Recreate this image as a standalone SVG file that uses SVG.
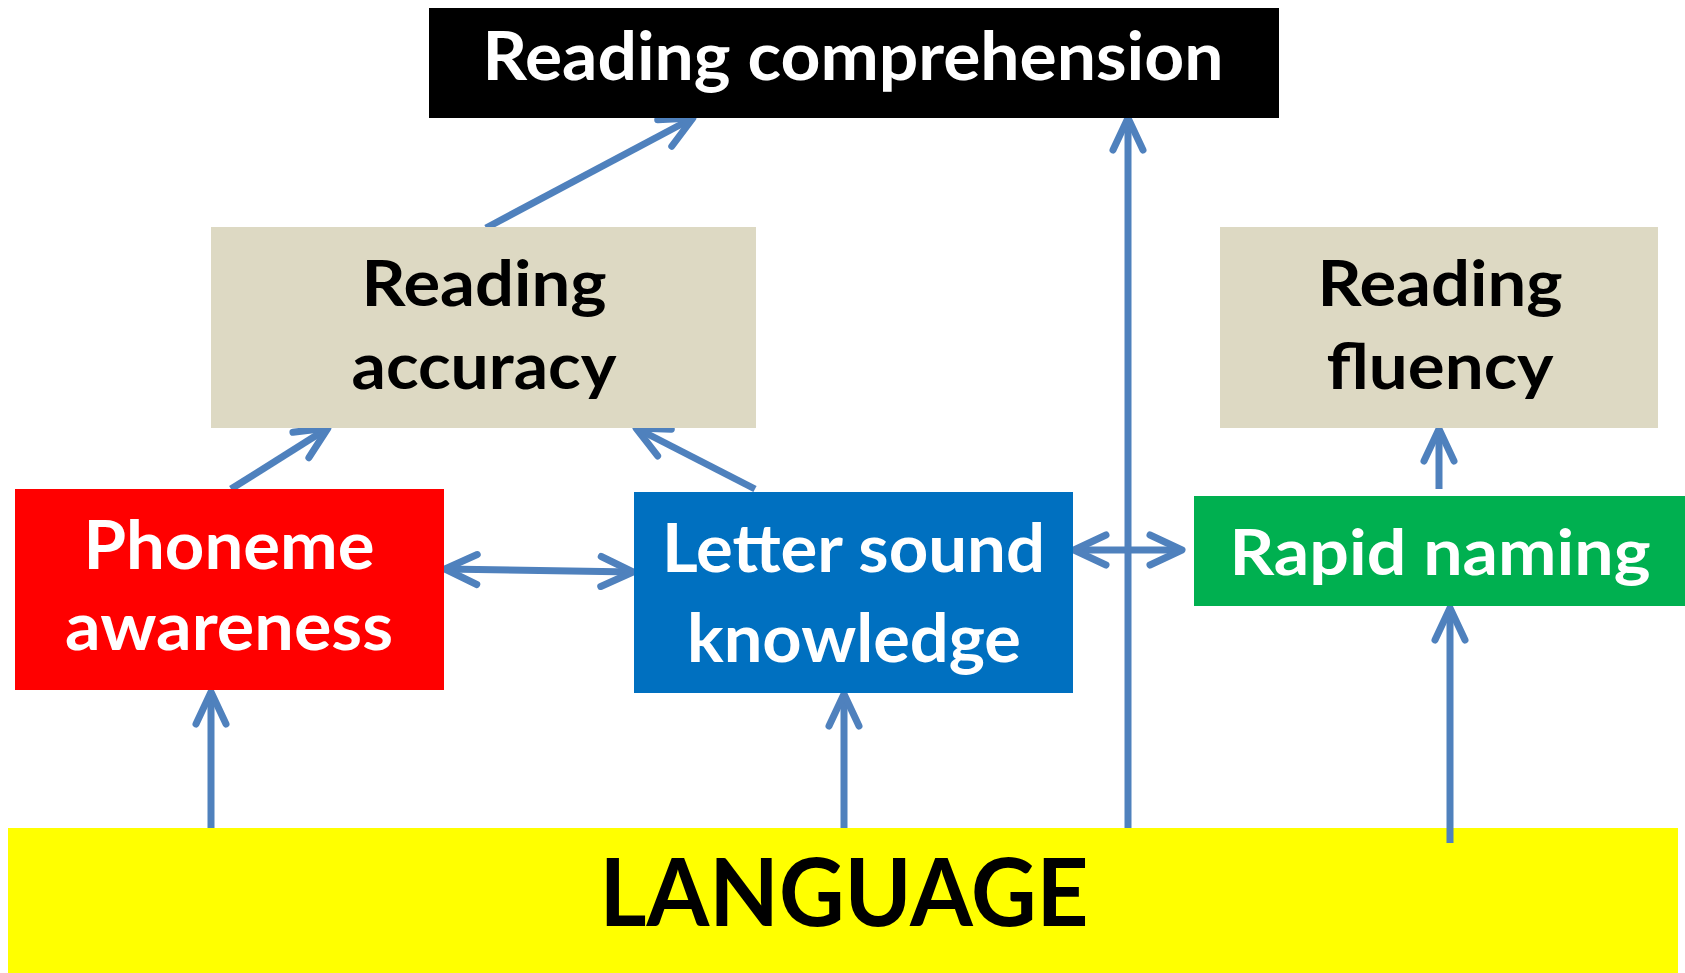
<svg xmlns="http://www.w3.org/2000/svg" width="1685" height="973" viewBox="0 0 1685 973">
<style>
.t{font-family:Lato,"Open Sans","Liberation Sans",sans-serif;font-weight:bold;text-anchor:middle}
.w{fill:#fff}
.k{fill:#000}
.c{fill:none;stroke:#4F81BD;stroke-width:7}
</style>
<defs>
<marker id="ah" markerUnits="userSpaceOnUse" markerWidth="40" markerHeight="40" refX="0" refY="0" orient="auto-start-reverse" overflow="visible" viewBox="-40 -20 40 40">
<path d="M-32,-15 L0,0 L-32,15" fill="none" stroke="#4F81BD" stroke-width="7" stroke-linecap="round" stroke-linejoin="round"/>
</marker>
</defs>
<rect width="1685" height="973" fill="#fff"/>
<g id="language">
<rect x="8" y="828" width="1670" height="145" fill="#FFFF00"/>
<text class="t k" x="844" y="926" font-size="94" textLength="489" lengthAdjust="spacingAndGlyphs">LANGUAGE</text>
</g>
<g id="connectors">
<line class="c" x1="486" y1="228" x2="693" y2="118" marker-end="url(#ah)"/>
<line class="c" x1="231" y1="489" x2="328" y2="428" marker-end="url(#ah)"/>
<line class="c" x1="755" y1="489" x2="636" y2="428" marker-end="url(#ah)"/>
<line class="c" x1="445" y1="569" x2="633" y2="572" marker-start="url(#ah)" marker-end="url(#ah)"/>
<line class="c" x1="1074" y1="550" x2="1182" y2="550" marker-start="url(#ah)" marker-end="url(#ah)"/>
<line class="c" x1="1128" y1="828" x2="1128" y2="118" marker-end="url(#ah)"/>
<line class="c" x1="1439" y1="489" x2="1439" y2="429" marker-end="url(#ah)"/>
<line class="c" x1="1450" y1="843" x2="1450" y2="608" marker-end="url(#ah)"/>
<line class="c" x1="844" y1="828" x2="844" y2="694" marker-end="url(#ah)"/>
<line class="c" x1="211" y1="828" x2="211" y2="692" marker-end="url(#ah)"/>
</g>
<g id="reading-comprehension">
<rect x="429" y="8" width="850" height="110" fill="#000"/>
<text class="t w" x="853" y="80" font-size="67" textLength="741" lengthAdjust="spacingAndGlyphs">Reading comprehension</text>
</g>
<g id="reading-accuracy">
<rect x="211" y="227" width="545" height="201" fill="#DDD9C3"/>
<text class="t k" x="484" y="306" font-size="64" textLength="245" lengthAdjust="spacingAndGlyphs">Reading</text>
<text class="t k" x="484" y="389" font-size="64" textLength="265" lengthAdjust="spacingAndGlyphs">accuracy</text>
</g>
<g id="reading-fluency">
<rect x="1220" y="227" width="438" height="201" fill="#DDD9C3"/>
<text class="t k" x="1440" y="306" font-size="64" textLength="245" lengthAdjust="spacingAndGlyphs">Reading</text>
<text class="t k" x="1440" y="389" font-size="64" textLength="227" lengthAdjust="spacingAndGlyphs">fluency</text>
</g>
<g id="phoneme-awareness">
<rect x="15" y="489" width="429" height="201" fill="#FF0000"/>
<text class="t w" x="229" y="569" font-size="67" textLength="291" lengthAdjust="spacingAndGlyphs">Phoneme</text>
<text class="t w" x="229" y="650" font-size="67" textLength="328" lengthAdjust="spacingAndGlyphs">awareness</text>
</g>
<g id="letter-sound-knowledge">
<rect x="634" y="492" width="439" height="201" fill="#0070C0"/>
<text class="t w" x="853.5" y="572" font-size="66" textLength="383" lengthAdjust="spacingAndGlyphs">Letter sound</text>
<text class="t w" x="854" y="662" font-size="66" textLength="334" lengthAdjust="spacingAndGlyphs">knowledge</text>
</g>
<g id="rapid-naming">
<rect x="1194" y="496" width="491" height="110" fill="#00B050"/>
<text class="t w" x="1440" y="575" font-size="64" textLength="421" lengthAdjust="spacingAndGlyphs">Rapid naming</text>
</g>
</svg>
